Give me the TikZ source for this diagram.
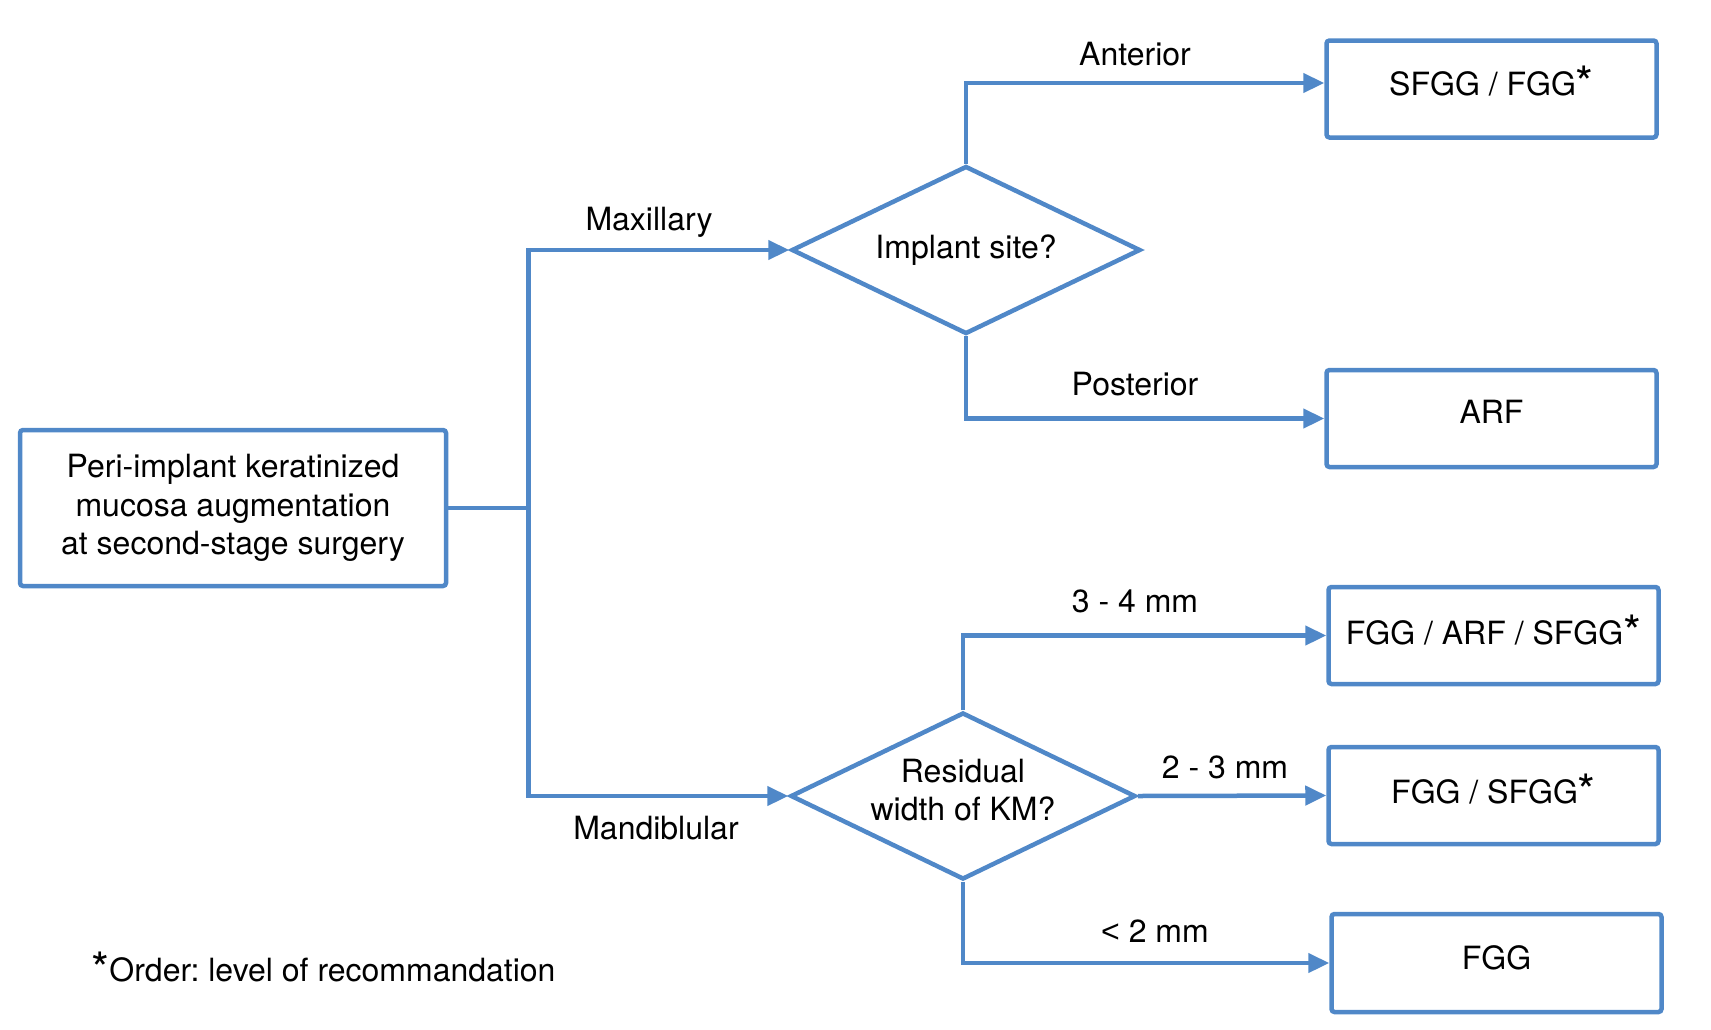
\documentclass[tikz,border=0pt]{standalone}
\usepackage{fontspec}
\setmainfont{TeX Gyre Heros}
\newfontfamily\ltfont{Liberation Sans}
\usetikzlibrary{shapes.geometric,arrows.meta,calc}
\definecolor{flowblue}{RGB}{80,136,200}
\newcommand{\supstar}{{\fontsize{46}{46}\selectfont\raisebox{-4pt}{*}}}
\frenchspacing
\tikzset{
  conn/.style={draw=flowblue, line width=4.5pt},
  arr/.style={-{Triangle[length=21pt,width=19pt]}},
  resultbox/.style={draw=flowblue, line width=4.5pt, rounded corners=3pt, minimum width=330pt, inner xsep=0pt, inner ysep=0pt, anchor=base},
  startbox/.style={draw=flowblue, line width=4.5pt, rounded corners=3pt, minimum width=426pt, minimum height=156pt, align=center},
  decision/.style={diamond, draw=flowblue, line width=4.5pt, aspect=2.08, inner sep=0pt, align=center},
  edgelabel/.style={anchor=base}
}
\begin{document}
\begin{tikzpicture}[x=1pt,y=-1pt, every node/.append style={font=\fontsize{32}{38.5}\selectfont}]
\useasboundingbox (0,0) rectangle (1711,1029);
\node[startbox] (start) at (233,508) {Peri-implant keratinized\\mucosa augmentation\\at second-stage surgery};
\node[decision, minimum width=349pt, minimum height=168pt] (d1) at (966,250) {Implant site?};
\node[decision, minimum width=345pt, minimum height=167pt, text depth=12pt] (d2) at (963,796) {Residual\\width of KM?};
\node[resultbox, text height=55pt, text depth=42pt] (r1) at (1491.5,95.5) {SFGG / FGG\supstar};
\node[resultbox, text height=53pt, text depth=44pt] (r2) at (1491.5,423) {ARF};
\node[resultbox, text height=57pt, text depth=40pt] (r3) at (1493.5,644) {FGG / ARF / SFGG\supstar};
\node[resultbox, text height=56pt, text depth=41pt] (r4) at (1493.5,803) {FGG / SFGG\supstar};
\node[resultbox, text height=55pt, text depth=43pt] (r5) at (1496.5,969) {FGG};
\coordinate (trunk) at ([xshift=80pt]start.east);
\draw[conn] (start.east) -- (trunk);
\draw[conn,arr] (trunk) |- (d1.west);
\draw[conn,arr] (trunk) |- (d2.west);
\draw[conn,arr] (d1.north) |- ([yshift=6pt]r1.west);
\draw[conn,arr] (d1.south) |- (r2.west);
\draw[conn,arr] (d2.north) |- (r3.west);
\draw[conn,arr] (d2.east) -- (r4.west);
\draw[conn,arr] (d2.south) |- (r5.west);
\node[edgelabel] (lmax) at (649,230) {Maxillary};
\node[edgelabel] (lant) at (1135,65) {Anterior};
\node[edgelabel] (lpost) at (1135,395) {Posterior};
\node[edgelabel] (l34) at (1135,612) {3 - 4 mm};
\node[edgelabel] (l23) at (1225,778) {2 - 3 mm};
\node[edgelabel] (lmand) at (656,839) {Mandiblular};
\node[edgelabel] (l2) at (1155,942) {{\ltfont <} 2 mm};
\node[anchor=base west] (foot) at (88,981) {\supstar Order: level of recommandation};
\end{tikzpicture}
\end{document}
